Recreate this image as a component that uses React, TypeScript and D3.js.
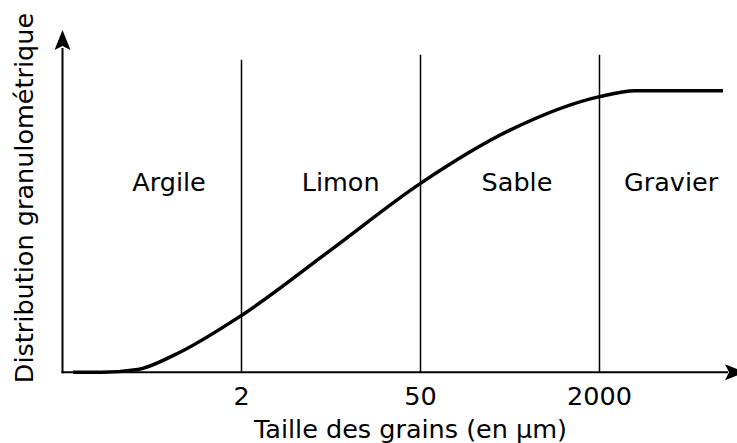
import React from "react";
import * as d3 from "d3";

// Class boundaries (grain size, µm) shown as ticks on an ordinal-like axis
const tickLabels = ["2", "50", "2000"];
const tickPositions = [1, 2, 3]; // class-index units
const boundaryTops = [111, 112.8, 112.8]; // y-units where each divider line ends

// Soil classes and their label positions (class-index units)
const classNames = ["Argile", "Limon", "Sable", "Gravier"];
const classLabelX = [0.595, 1.554, 2.539, 3.4];
const classLabelY = [64.5, 64.5, 64.5, 64.5];

// Cumulative grain-size distribution curve (x in class-index units, y in %)
const curveX = [0.059, 0.22, 0.42, 0.62, 1.0, 1.5, 2.0, 2.5, 3.0, 3.2, 3.69];
const curveY = [0, 0, 1.0, 6.0, 20.2, 43.5, 67.1, 86.0, 97.9, 100, 100];

const W = 737;
const H = 443;

export default function App() {
  const x = d3.scaleLinear().domain([0, 3]).range([62.5, 599.5]);
  const y = d3.scaleLinear().domain([0, 100]).range([372.3, 90.7]);

  const pts: [number, number][] = curveX.map((v, i) => [x(v), y(curveY[i])]);
  const line = d3
    .line<[number, number]>()
    .x((d) => d[0])
    .y((d) => d[1])
    .curve(d3.curveMonotoneX);

  const x0 = x(0);
  const y0 = y(0);
  const font = "'DejaVu Sans', sans-serif";
  const fs = 25.5;

  return (
    <svg
      width={W}
      height={H}
      viewBox={`0 0 ${W} ${H}`}
      style={{ position: "absolute", left: 0, top: 0, background: "#fff" }}
    >
      <rect x={0} y={0} width={W} height={H} fill="#fff" />
      {/* divider lines */}
      {tickPositions.map((t, i) => (
        <line
          key={"b" + i}
          x1={x(t)}
          x2={x(t)}
          y1={y0}
          y2={y(boundaryTops[i])}
          stroke="#000"
          strokeWidth={1.5}
        />
      ))}
      {/* axes */}
      <line x1={x0} x2={x0} y1={y0 + 1} y2={48} stroke="#000" strokeWidth={2} />
      <path d={`M${x0},30 L${x0 - 8},50 L${x0},46 L${x0 + 8},50 Z`} fill="#000" />
      <line x1={x0 - 1} x2={728} y1={y0} y2={y0} stroke="#000" strokeWidth={2} />
      <path d={`M745,${y0} L725,${y0 - 8} L729,${y0} L725,${y0 + 8} Z`} fill="#000" />
      {/* curve */}
      <path d={line(pts) || ""} fill="none" stroke="#000" strokeWidth={3.5} strokeLinecap="butt" />
      {/* tick labels */}
      {tickPositions.map((t, i) => (
        <text
          key={"t" + i}
          x={x(t)}
          y={405}
          textAnchor="middle"
          fontFamily={font}
          fontSize={fs}
          fill="#000"
        >
          {tickLabels[i]}
        </text>
      ))}
      {/* class labels */}
      {classNames.map((c, i) => (
        <text
          key={"c" + i}
          x={x(classLabelX[i])}
          y={y(classLabelY[i])}
          textAnchor="middle"
          fontFamily={font}
          fontSize={fs}
          fill="#000"
        >
          {c}
        </text>
      ))}
      {/* axis titles */}
      <text x={410.5} y={438} textAnchor="middle" fontFamily={font} fontSize={fs} fill="#000">
        Taille des grains (en µm)
      </text>
      <text
        transform={`translate(33,198) rotate(-90)`}
        textAnchor="middle"
        fontFamily={font}
        fontSize={fs}
        fill="#000"
      >
        Distribution granulométrique
      </text>
    </svg>
  );
}
